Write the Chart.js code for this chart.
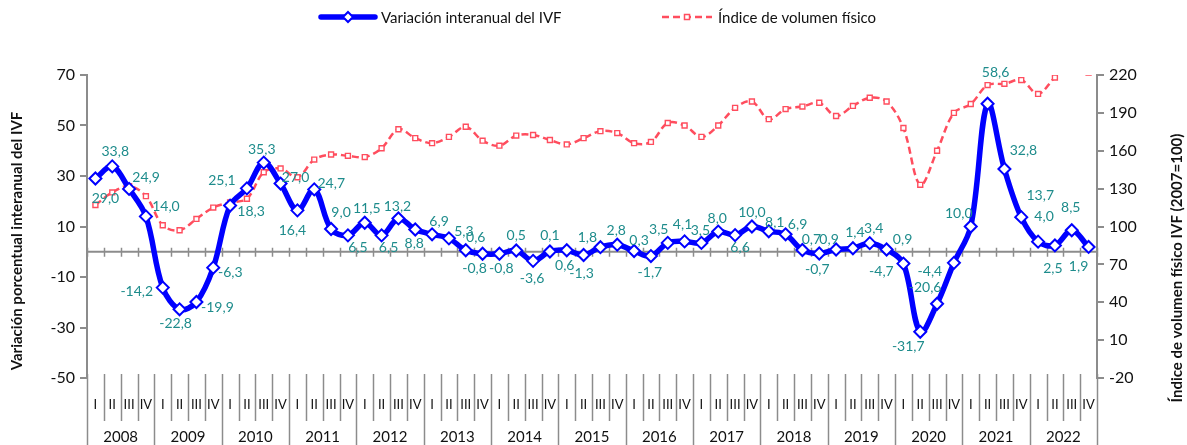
<!DOCTYPE html>
<html>
<head>
<meta charset="utf-8">
<script src="https://cdn.jsdelivr.net/npm/chart.js@4.4.1/dist/chart.umd.min.js"></script>
<style>
html,body{margin:0;padding:0;background:#fff}
#wrap{width:1187px;height:445px}
</style>
</head>
<body>
<div id="wrap"><canvas id="myChart" width="1187" height="445"></canvas></div>
<script>
// datos
const anios = ['2008','2009','2010','2011','2012','2013','2014','2015','2016','2017','2018','2019','2020','2021','2022'];
const trimestres = ['I','II','III','IV'];
const variacion = [29.0, 33.8, 24.9, 14.0, -14.2, -22.8, -19.9, -6.3, 18.3, 25.1, 35.3, 27.0, 16.4, 24.7, 9.0, 6.5,
  11.5, 6.5, 13.2, 8.8, 6.9, 5.3, 0.6, -0.8, -0.8, 0.5, -3.6, 0.1, 0.6, -1.3, 1.8, 2.8,
  0.3, -1.7, 3.5, 4.1, 3.5, 8.0, 6.6, 10.0, 8.1, 6.9, 0.7, -0.7, 0.9, 1.4, 3.4, 0.9,
  -4.7, -31.7, -20.6, -4.4, 10.0, 58.6, 32.8, 13.7, 4.0, 2.5, 8.5, 1.9];
const indice = [117, 127, 132, 124, 101, 97, 106, 115, 119, 122, 143, 146, 139, 153, 157, 156,
  155, 162, 177, 170, 166, 171, 179, 168, 164, 172, 172.5, 168.5, 165, 170, 175.5, 174,
  166, 167, 182, 180, 171, 180, 194, 199, 185, 193, 195, 198, 187.5, 195.5, 202, 199,
  178, 133, 160, 190, 197, 212, 213, 216, 205, 218, 227, 222];
const ticksIzq = [-50, 70, 20];   // min, max, paso
const ticksDer = [-20, 220, 30];

// ubicacion de las etiquetas de datos (dx, dy en px respecto al punto)
const posEtiquetas = [[10,20],[3,-15],[17,-11],[20,-10],[-26,4],[-4,14],[21,5],[17,5],[21,6],[-25,-8],
  [-2,-13],[15,-6],[-5,20],[17,-6],[10,-17],[10,12],[2,-14],[7,12],[-1,-12],[-1,14],
  [7,-13],[15,-7],[10,-13],[-8,15],[2,15],[0,-15],[-1,18],[0,-16],[-2,15],[-2,18],
  [-13,-10],[-1,-14],[5,-11],[-1,16],[-9,-13],[-2,-17],[-1,-12],[-1,-13],[5,12],[0,-14],
  [6,-9],[12,-10],[9,-10],[-2,16],[-7,-10],[2,-16],[4,-15],[16,-10],[-22,8],[-12,15],
  [-12,-16],[-24,9],[-12,-13],[8,-31],[19,-18],[19,-22],[6,-25],[-2,23],[-1,-23],[-10,20]];

const categorias = anios.flatMap(a => trimestres.map(t => t + ' ' + a));

const AZUL = '#0000ff';
const ROJO = '#ff4d5e';
const VERDE = '#1e8c8c';
const GRIS = '#8c8c8c';
Chart.defaults.font.family = 'Lato';

function diamante(ctx, x, y, r){
  ctx.beginPath();
  ctx.moveTo(x, y - r); ctx.lineTo(x + r, y); ctx.lineTo(x, y + r); ctx.lineTo(x - r, y);
  ctx.closePath(); ctx.fill(); ctx.stroke();
}

const extras = {
  id: 'extras',
  beforeDatasetsDraw(chart){
    const ctx = chart.ctx;
    const xs = chart.scales.x, ys = chart.scales.y;
    const {left, right} = chart.chartArea;
    const y0 = ys.getPixelForValue(0);
    const medio = (xs.getPixelForValue(1) - xs.getPixelForValue(0)) / 2;
    ctx.save();
    ctx.strokeStyle = GRIS; ctx.lineWidth = 2;
    ctx.beginPath(); ctx.moveTo(left, y0); ctx.lineTo(right, y0); ctx.stroke();
    ctx.lineWidth = 1.5;
    for (let i = 0; i <= categorias.length; i++){
      const xb = Math.round(xs.getPixelForValue(Math.min(i, categorias.length - 1)) + (i < categorias.length ? -medio : medio)) + 0.5;
      ctx.beginPath(); ctx.moveTo(xb, y0 - 4); ctx.lineTo(xb, y0 + 5); ctx.stroke();
    }
    ctx.restore();
  },
  afterDraw(chart){
    const ctx = chart.ctx;
    const xs = chart.scales.x;
    const {bottom} = chart.chartArea;
    const medio = (xs.getPixelForValue(1) - xs.getPixelForValue(0)) / 2;
    ctx.save();
    // eje de categorias inferior
    ctx.strokeStyle = GRIS; ctx.lineWidth = 1.5;
    for (let i = 0; i <= categorias.length; i++){
      const xb = Math.round(xs.getPixelForValue(Math.min(i, categorias.length - 1)) + (i < categorias.length ? -medio : medio)) + 0.5;
      ctx.beginPath(); ctx.moveTo(xb, bottom - 4); ctx.lineTo(xb, i % 4 === 0 ? 445 : 421); ctx.stroke();
    }
    ctx.fillStyle = '#111'; ctx.textAlign = 'center'; ctx.textBaseline = 'middle';
    ctx.font = '13px Lato';
    categorias.forEach((c, i) => ctx.fillText(trimestres[i % 4], xs.getPixelForValue(i), 405));
    ctx.font = '15px Lato';
    anios.forEach((a, k) => {
      const xc = (xs.getPixelForValue(k * 4) + xs.getPixelForValue(k * 4 + 3)) / 2;
      ctx.fillText(a, xc, 437);
    });

    // etiquetas de datos
    ctx.font = '14px Lato'; ctx.fillStyle = VERDE;
    chart.getDatasetMeta(0).data.forEach((p, i) => {
      const [dx, dy] = posEtiquetas[i];
      ctx.fillText(variacion[i].toFixed(1).replace('.', ','), p.x + dx, p.y + dy);
    });

    // titulos de ejes
    ctx.fillStyle = '#111'; ctx.font = 'bold 15px Lato';
    ctx.save(); ctx.translate(17, 241); ctx.rotate(-Math.PI / 2); ctx.fillText('Variación porcentual interanual del IVF', 0, 0); ctx.restore();
    ctx.save(); ctx.translate(1177, 268); ctx.rotate(-Math.PI / 2); ctx.fillText('Índice de volumen físico IVF (2007=100)', 0, 0); ctx.restore();

    // leyenda
    ctx.textAlign = 'left'; ctx.font = '15px Lato'; ctx.fillStyle = '#111';
    ctx.strokeStyle = AZUL; ctx.lineWidth = 5.5; ctx.lineCap = 'round';
    ctx.beginPath(); ctx.moveTo(321, 17); ctx.lineTo(375, 17); ctx.stroke();
    ctx.lineCap = 'butt'; ctx.lineWidth = 2; ctx.fillStyle = '#fff';
    diamante(ctx, 348, 17, 5);
    ctx.fillStyle = '#111';
    ctx.fillText('Variación interanual del IVF', 381, 18);
    ctx.strokeStyle = ROJO; ctx.lineWidth = 2.5; ctx.setLineDash([7, 4]);
    ctx.beginPath(); ctx.moveTo(662, 17); ctx.lineTo(712, 17); ctx.stroke();
    ctx.setLineDash([]); ctx.lineWidth = 1.5; ctx.fillStyle = '#fff';
    ctx.fillRect(684.5, 14.5, 5, 5); ctx.strokeRect(684.5, 14.5, 5, 5);
    ctx.fillStyle = '#111';
    ctx.fillText('Índice de volumen físico', 718, 18);
    ctx.restore();
  }
};

const chart = new Chart('myChart', {
  type: 'line',
  data: {
    labels: categorias,
    datasets: [{
      label: 'Variación interanual del IVF',
      data: variacion,
      yAxisID: 'y',
      borderColor: AZUL,
      borderWidth: 5.5,
      tension: 0.35,
      pointStyle: 'rectRot',
      pointRadius: 6,
      pointBackgroundColor: '#fff',
      pointBorderColor: AZUL,
      pointBorderWidth: 2
    }, {
      label: 'Índice de volumen físico',
      data: indice,
      yAxisID: 'y2',
      borderColor: ROJO,
      borderWidth: 2.5,
      borderDash: [7, 4],
      tension: 0.35,
      clip: 0,
      pointStyle: 'rect',
      pointRadius: 3.5,
      pointBackgroundColor: '#fff',
      pointBorderColor: ROJO,
      pointBorderWidth: 1.4
    }]
  },
  options: {
    responsive: false,
    animation: false,
    devicePixelRatio: 1,
    layout: { padding: { top: 75, bottom: 67, left: 0, right: 0 } },
    plugins: { legend: { display: false }, tooltip: { enabled: false } },
    scales: {
      x: { type: 'category', display: false, offset: true },
      y: {
        position: 'left', min: ticksIzq[0], max: ticksIzq[1],
        ticks: { stepSize: ticksIzq[2], color: '#111', font: { size: 16 }, padding: 5 },
        grid: { drawOnChartArea: false, tickLength: 7, color: GRIS, lineWidth: 2 },
        border: { color: GRIS, width: 2 },
        afterFit: s => { s.width = 87; }
      },
      y2: {
        position: 'right', min: ticksDer[0], max: ticksDer[1],
        ticks: { stepSize: ticksDer[2], color: '#111', font: { size: 16 }, padding: 5 },
        grid: { drawOnChartArea: false, tickLength: 7, color: GRIS, lineWidth: 2 },
        border: { color: GRIS, width: 2 },
        afterFit: s => { s.width = 90; }
      }
    }
  },
  plugins: [extras]
});
</script>
</body>
</html>
